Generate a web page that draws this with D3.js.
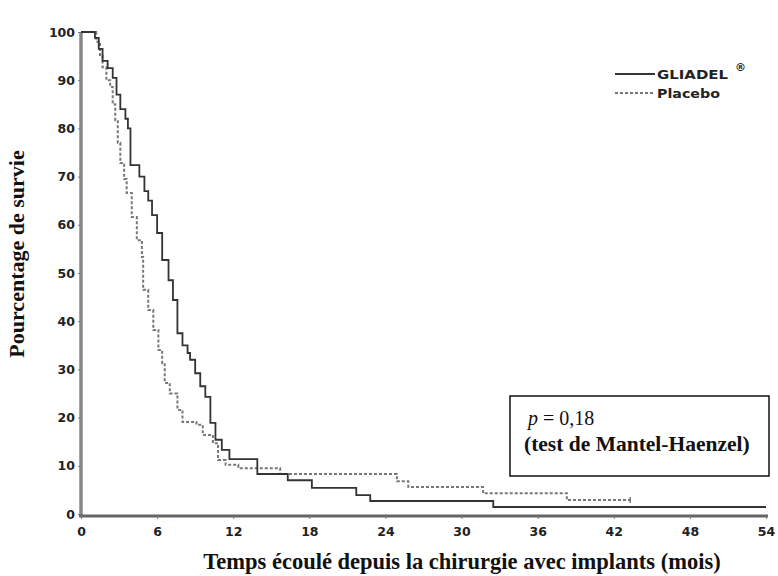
<!DOCTYPE html>
<html><head><meta charset="utf-8">
<script src="https://cdn.jsdelivr.net/npm/d3@7"></script>
<style>body{margin:0;background:#fff}</style>
</head><body>
<script>
// ---- data ----
const gliadelTimes = [0,1.1,1.4,1.7,2.1,2.5,2.8,3.1,3.5,3.7,3.9,4.6,5.0,5.3,5.6,6.0,6.4,6.9,7.25,7.6,8.0,8.4,8.6,9.0,9.4,9.8,10.2,10.6,11.1,11.7,13.9,16.3,18.2,21.7,22.8,32.5,54];
const gliadelSurv  = [100,98.8,96.5,94,92.5,90.5,87,84,82,80,72.4,70,67,65,62,58.3,52.7,48.5,44.4,37.5,35,33.4,32,29.2,26.5,24.3,18.9,15.4,13.3,11.4,8.3,7.0,5.4,3.9,2.7,1.45,1.45];
const placeboTimes = [0,1.2,1.5,1.7,2.0,2.3,2.5,2.7,2.9,3.1,3.4,3.6,4.0,4.4,4.8,4.9,5.3,5.7,6.1,6.4,6.6,7.0,7.6,8.0,9.1,9.6,10.4,10.8,11.4,12.4,15.7,24.9,25.8,31.7,38.3,43.3];
const placeboSurv  = [100,98,95,92.7,90,88.6,85,81.7,77,72.8,69.5,66.6,61.6,56.8,53.3,46.5,42.3,38.2,34,31.3,27.2,25,21.6,19.1,18.5,16.4,14.7,11.2,10.2,9.5,8.3,6.8,5.6,4.3,2.9,2.9];
const xTicks = [0,6,12,18,24,30,36,42,48,54];
const yTicks = [0,10,20,30,40,50,60,70,80,90,100];
const seriesNames = ["GLIADEL", "Placebo"];
const xTitle = "Temps écoulé depuis la chirurgie avec implants (mois)";
const yTitle = "Pourcentage de survie";
const pText = "= 0,18";
const testText = "(test de Mantel-Haenzel)";

// ---- drawing ----
const W = 778, H = 576;
const svg = d3.select("body").append("svg").attr("width", W).attr("height", H);
const x = d3.scaleLinear().domain([0, 54]).range([81, 766]);
const y = d3.scaleLinear().domain([0, 100]).range([514, 32]);

const tickFont = "'DejaVu Sans', sans-serif";
const serif = "'Liberation Serif', 'Times New Roman', serif";

// axes
const yAxis = d3.axisLeft(y).tickValues(yTicks).tickSize(3).tickPadding(3).tickFormat(d3.format("d"));
const gy = svg.append("g").attr("transform", `translate(${x(0)},0)`).call(yAxis);
gy.select(".domain").attr("stroke", "#888").attr("stroke-width", 3.5).attr("d", `M0,${y(100)}V${y(0)+2}`);
gy.selectAll(".tick line").attr("stroke", "#777");
gy.selectAll(".tick text").attr("font-family", tickFont).attr("font-weight", "bold").attr("font-size", 12.5).attr("fill", "#222");

const xAxis = d3.axisBottom(x).tickValues(xTicks).tickSize(3).tickPadding(8).tickFormat(d3.format("d"));
const gx = svg.append("g").attr("transform", `translate(0,${y(0)+2})`).call(xAxis);
gx.select(".domain").attr("stroke", "#666").attr("stroke-width", 3).attr("d", `M${x(0)-2},0H${x(54)+2}`);
gx.selectAll(".tick line").attr("stroke", "#777");
gx.selectAll(".tick text").attr("font-family", tickFont).attr("font-weight", "bold").attr("font-size", 12.5).attr("fill", "#222");

// curves
const line = d3.line().x(d => x(d[0])).y(d => y(d[1])).curve(d3.curveStepAfter);
const gPts = gliadelTimes.map((t, i) => [t, gliadelSurv[i]]);
const pPts = placeboTimes.map((t, i) => [t, placeboSurv[i]]);

svg.append("path").datum(pPts).attr("d", line).attr("fill", "none")
  .attr("stroke", "#777").attr("stroke-width", 2).attr("stroke-dasharray", "3,2");
svg.append("line").attr("x1", x(43.3)).attr("x2", x(43.3))
  .attr("y1", y(2.9) - 3).attr("y2", y(2.9) + 3).attr("stroke", "#777").attr("stroke-width", 1.5);
svg.append("path").datum(gPts).attr("d", line).attr("fill", "none")
  .attr("stroke", "#333").attr("stroke-width", 1.8);

// legend
const lg = svg.append("g");
lg.append("line").attr("x1", 615).attr("x2", 655).attr("y1", 74).attr("y2", 74).attr("stroke", "#333").attr("stroke-width", 1.8);
lg.append("line").attr("x1", 615).attr("x2", 655).attr("y1", 93).attr("y2", 93).attr("stroke", "#777").attr("stroke-width", 2).attr("stroke-dasharray", "3,2");
lg.append("text").attr("x", 657).attr("y", 79).attr("font-family", tickFont).attr("font-weight", "bold").attr("font-size", 12.5)
  .attr("textLength", 71).attr("lengthAdjust", "spacingAndGlyphs").attr("fill", "#222").text(seriesNames[0]);
lg.append("text").attr("x", 735).attr("y", 71).attr("font-family", tickFont).attr("font-weight", "bold").attr("font-size", 11).attr("fill", "#222").text("®");
lg.append("text").attr("x", 657).attr("y", 98).attr("font-family", tickFont).attr("font-weight", "bold").attr("font-size", 12.5)
  .attr("textLength", 63).attr("lengthAdjust", "spacingAndGlyphs").attr("fill", "#222").text(seriesNames[1]);

// titles
svg.append("text").attr("x", 462).attr("y", 569).attr("text-anchor", "middle")
  .attr("font-family", serif).attr("font-weight", "bold").attr("font-size", 22.5).attr("fill", "#111").text(xTitle);
svg.append("text").attr("transform", "translate(24,254) rotate(-90)").attr("text-anchor", "middle")
  .attr("font-family", serif).attr("font-weight", "bold").attr("font-size", 22).attr("fill", "#111").text(yTitle);

// p-value box
svg.append("rect").attr("x", 510).attr("y", 396).attr("width", 259).attr("height", 80)
  .attr("fill", "#fff").attr("stroke", "#111").attr("stroke-width", 1.5);
const pt = svg.append("text").attr("x", 528).attr("y", 425).attr("font-family", serif).attr("font-size", 20).attr("fill", "#111");
pt.append("tspan").attr("font-style", "italic").text("p");
pt.append("tspan").text(" " + pText);
svg.append("text").attr("x", 524).attr("y", 451).attr("font-family", serif).attr("font-weight", "bold").attr("font-size", 21.5).attr("fill", "#111").text(testText);
</script>
</body></html>
